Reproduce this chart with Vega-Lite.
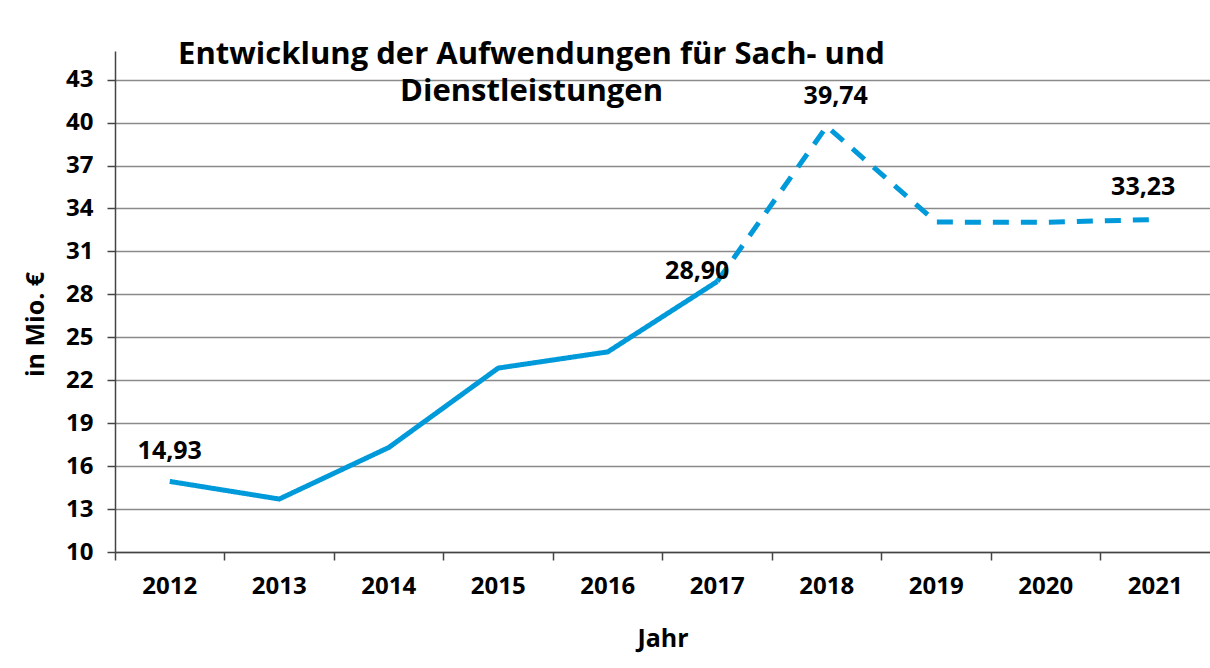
{
  "$schema": "https://vega.github.io/schema/vega-lite/v6.json",
  "width": 1095,
  "height": 501,
  "autosize": {"type": "none"},
  "padding": {"left": 115, "top": 51, "right": 0, "bottom": 116},
  "background": "white",
  "title": {
    "text": ["Entwicklung der Aufwendungen für Sach- und", "Dienstleistungen"],
    "anchor": "middle",
    "dx": -131,
    "offset": -57,
    "fontSize": 31,
    "lineHeight": 37,
    "font": "Open Sans",
    "fontWeight": "bold",
    "color": "black"
  },
  "data": {
    "values": [
      {"year": "2012", "value": 14.93, "seg": "ist"},
      {"year": "2013", "value": 13.7, "seg": "ist"},
      {"year": "2014", "value": 17.3, "seg": "ist"},
      {"year": "2015", "value": 22.85, "seg": "ist"},
      {"year": "2016", "value": 23.98, "seg": "ist"},
      {"year": "2017", "value": 28.9, "seg": "ist"},
      {"year": "2017", "value": 28.9, "seg": "plan"},
      {"year": "2018", "value": 39.74, "seg": "plan"},
      {"year": "2019", "value": 33.05, "seg": "plan"},
      {"year": "2020", "value": 33.03, "seg": "plan"},
      {"year": "2021", "value": 33.23, "seg": "plan"}
    ]
  },
  "encoding": {
    "x": {
      "field": "year",
      "type": "ordinal",
      "scale": {"type": "band", "paddingInner": 0, "paddingOuter": 0},
      "axis": {
        "title": "Jahr",
        "labelAngle": 0,
        "bandPosition": 0,
        "tickSize": 8,
        "tickColor": "#444",
        "tickWidth": 1.5,
        "domainColor": "#444",
        "domainWidth": 1.5,
        "labelFont": "Open Sans",
        "labelFontSize": 24,
        "labelFontWeight": "bold",
        "labelColor": "black",
        "labelPadding": 14,
        "titleFont": "Open Sans",
        "titleFontSize": 25,
        "titleFontWeight": "bold",
        "titleColor": "black",
        "titlePadding": 28
      }
    },
    "y": {
      "field": "value",
      "type": "quantitative",
      "scale": {"domain": [10, 45], "nice": false, "zero": false},
      "axis": {
        "title": "in Mio. €",
        "values": [10, 13, 16, 19, 22, 25, 28, 31, 34, 37, 40, 43],
        "grid": true,
        "gridColor": "#8a8a8a",
        "gridWidth": 1.5,
        "tickSize": 8,
        "tickColor": "#444",
        "tickWidth": 1.5,
        "domainColor": "#444",
        "domainWidth": 1.5,
        "labelFont": "Open Sans",
        "labelFontSize": 24,
        "labelFontWeight": "bold",
        "labelColor": "black",
        "labelPadding": 14,
        "titleFont": "Open Sans",
        "titleFontSize": 25,
        "titleFontWeight": "bold",
        "titleColor": "black",
        "titleX": -72,
        "titleY": 273,
        "titleBaseline": "alphabetic"
      }
    }
  },
  "layer": [
    {
      "mark": {"type": "line", "color": "#009ADA", "strokeWidth": 5},
      "encoding": {
        "strokeDash": {
          "field": "seg",
          "type": "nominal",
          "scale": {"domain": ["ist", "plan"], "range": [[1, 0], [16, 12]]},
          "legend": null
        }
      }
    },
    {
      "transform": [{"filter": "datum.year == '2012'"}],
      "mark": {"type": "text", "dy": -30, "font": "Open Sans", "fontSize": 25, "fontWeight": "bold", "color": "black"},
      "encoding": {"text": {"field": "value", "type": "quantitative", "format": ".2f"}}
    },
    {
      "transform": [{"filter": "datum.year == '2017' && datum.seg == 'ist'"}],
      "mark": {"type": "text", "dy": -10, "dx": -20, "font": "Open Sans", "fontSize": 25, "fontWeight": "bold", "color": "black"},
      "encoding": {"text": {"field": "value", "type": "quantitative", "format": ".2f"}}
    },
    {
      "transform": [{"filter": "datum.year == '2018'"}],
      "mark": {"type": "text", "dy": -30, "dx": 9, "font": "Open Sans", "fontSize": 25, "fontWeight": "bold", "color": "black"},
      "encoding": {"text": {"field": "value", "type": "quantitative", "format": ".2f"}}
    },
    {
      "transform": [{"filter": "datum.year == '2021'"}],
      "mark": {"type": "text", "dy": -32, "dx": -12, "font": "Open Sans", "fontSize": 25, "fontWeight": "bold", "color": "black"},
      "encoding": {"text": {"field": "value", "type": "quantitative", "format": ".2f"}}
    }
  ],
  "config": {
    "view": {"stroke": null},
    "locale": {"number": {"decimal": ",", "thousands": ".", "grouping": [3], "currency": ["", " €"]}}
  }
}
